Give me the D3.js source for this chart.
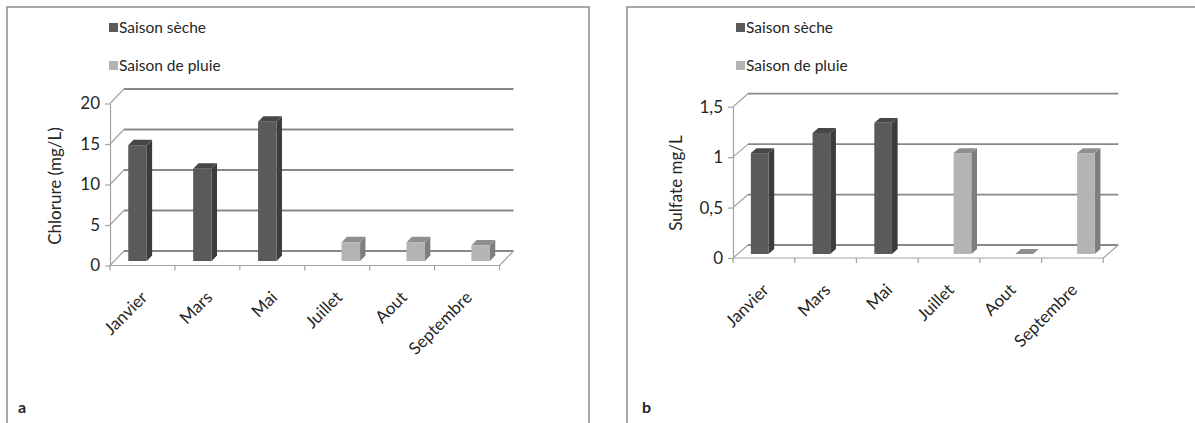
<!DOCTYPE html>
<html>
<head>
<meta charset="utf-8">
<script src="https://cdn.jsdelivr.net/npm/d3@7"></script>
<style>
  html, body { margin: 0; padding: 0; background: #fff; }
  svg { display: block; }
  text { font-family: Lato, "Liberation Sans", sans-serif; fill: #262626; }
</style>
</head>
<body>
<svg id="fig" width="1195" height="423"></svg>
<script>
// Monthly chloride and sulfate concentrations, dry season vs rainy season
const months = ["Janvier", "Mars", "Mai", "Juillet", "Aout", "Septembre"];
const seriesNames = ["Saison sèche", "Saison de pluie"];

const chlorureSeche = [14.3, 11.4, 17.2, null, null, null];
const chlorurePluie = [null, null, null, 2.3, 2.3, 1.9];
const chlorureTicks = [0, 5, 10, 15, 20];

const sulfateSeche = [1.0, 1.2, 1.3, null, null, null];
const sulfatePluie = [null, null, null, 1.0, 0, 1.0];
const sulfateTicks = [0, 0.5, 1, 1.5];

const faceColors = {
  "Saison sèche":    { front: "#5a5a5a", side: "#3c3c3c", top: "#474747" },
  "Saison de pluie": { front: "#b4b4b4", side: "#7e7e7e", top: "#8f8f8f" }
};

const frLocale = d3.formatLocale({ decimal: ",", thousands: " ", grouping: [3], currency: ["", ""] });
const tickFmt = frLocale.format("~g");

const svg = d3.select("#fig");
svg.append("rect").attr("width", 1195).attr("height", 423).attr("fill", "#fff");

// Panel frames
[[7, 582], [627, 600]].forEach(([px, pw]) => {
  svg.append("rect")
    .attr("x", px).attr("y", 7).attr("width", pw).attr("height", 440)
    .attr("fill", "none").attr("stroke", "#8c8c8c").attr("stroke-width", 1.5);
});

function drawPanel(cfg) {
  const g = svg.append("g");
  const { dx, dy } = cfg;
  const f0 = 0.31, f1 = 0.69;            // bar front/back depth fractions
  const bdx = (f1 - f0) * dx, bdy = (f1 - f0) * dy;

  const x = d3.scaleBand().domain(months).range([cfg.left, cfg.right]);
  const xs = d3.scaleBand().domain(seriesNames).range([0, x.bandwidth()]).paddingOuter(0.75);
  const y = d3.scaleLinear().domain([0, cfg.max]).range([cfg.bottom, cfg.top]);

  const thin = "#a3a3a3", grid = "#888888";

  // Back wall gridlines
  g.selectAll("line.grid").data(cfg.ticks).join("line")
    .attr("x1", cfg.left + dx).attr("x2", cfg.right + dx)
    .attr("y1", d => y(d) + dy).attr("y2", d => y(d) + dy)
    .attr("stroke", grid).attr("stroke-width", 1.8);

  // Side wall diagonals
  g.selectAll("line.diag").data(cfg.ticks).join("line")
    .attr("x1", cfg.left).attr("x2", cfg.left + dx)
    .attr("y1", d => y(d)).attr("y2", d => y(d) + dy)
    .attr("stroke", thin).attr("stroke-width", 1.2);

  // Floor front and right edges
  g.append("line")
    .attr("x1", cfg.left).attr("x2", cfg.right)
    .attr("y1", y(0)).attr("y2", y(0))
    .attr("stroke", thin).attr("stroke-width", 1.2);
  g.append("line")
    .attr("x1", cfg.right).attr("x2", cfg.right + dx)
    .attr("y1", y(0)).attr("y2", y(0) + dy)
    .attr("stroke", thin).attr("stroke-width", 1.2);

  // Category boundary ticks
  const bounds = months.map(m => x(m)).concat([cfg.right]);
  g.selectAll("line.ctick").data(bounds).join("line")
    .attr("x1", d => d).attr("x2", d => d)
    .attr("y1", y(0)).attr("y2", y(0) + 5)
    .attr("stroke", thin).attr("stroke-width", 1.2);

  // Value axis on the front left edge
  const ya = g.append("g")
    .attr("transform", `translate(${cfg.left},0)`)
    .call(d3.axisLeft(y).tickValues(cfg.ticks).tickSize(5).tickSizeOuter(0).tickPadding(5).tickFormat(tickFmt));
  ya.select(".domain").attr("stroke", thin).attr("stroke-width", 1.2);
  ya.selectAll(".tick line").attr("stroke", thin).attr("stroke-width", 1.2);
  ya.selectAll(".tick text")
    .attr("font-family", "Lato, 'Liberation Sans', sans-serif")
    .attr("font-size", 17).attr("fill", "#262626");

  // Category labels
  const xa = g.append("g")
    .attr("transform", `translate(0,${y(0)})`)
    .call(d3.axisBottom(x).tickSize(0).tickSizeOuter(0));
  xa.select(".domain").remove();
  xa.selectAll(".tick text")
    .attr("x", 0).attr("y", 0).attr("dy", null)
    .attr("transform", "translate(6,33) rotate(-45)")
    .attr("text-anchor", "end")
    .attr("font-family", "Lato, 'Liberation Sans', sans-serif")
    .attr("font-size", 17).attr("fill", "#262626");

  // 3D columns
  const bars = [];
  seriesNames.forEach((s, si) => {
    cfg.values[si].forEach((v, i) => {
      if (v !== null) bars.push({ s, m: months[i], v });
    });
  });
  const bw = xs.bandwidth();
  bars.forEach(b => {
    const xl = x(b.m) + xs(b.s) + f0 * dx;
    const xr = xl + bw;
    const yb = y(0) + f0 * dy;
    const yt = y(b.v) + f0 * dy;
    const c = faceColors[b.s];
    if (b.v > 0) {
      g.append("polygon")
        .attr("points", [[xr, yt], [xr + bdx, yt + bdy], [xr + bdx, yb + bdy], [xr, yb]].join(" "))
        .attr("fill", c.side);
    }
    g.append("polygon")
      .attr("points", [[xl, yt], [xl + bdx, yt + bdy], [xr + bdx, yt + bdy], [xr, yt]].join(" "))
      .attr("fill", c.top);
    if (b.v > 0) {
      g.append("rect")
        .attr("x", xl).attr("y", yt).attr("width", bw).attr("height", yb - yt)
        .attr("fill", c.front);
    }
  });

  // Axis title
  g.append("text")
    .attr("transform", `translate(${cfg.titleX},${cfg.titleY}) rotate(-90)`)
    .attr("text-anchor", "middle")
    .attr("font-size", 17).attr("fill", "#333")
    .text(cfg.title);

  // Legend
  seriesNames.forEach((s, i) => {
    const ly = cfg.legendY + i * 38;
    g.append("rect")
      .attr("x", cfg.legendX).attr("y", ly).attr("width", 9).attr("height", 9)
      .attr("fill", faceColors[s].front);
    g.append("text")
      .attr("x", cfg.legendX + 10).attr("y", ly + 10)
      .attr("font-size", 15.5).attr("fill", "#262626")
      .text(s);
  });

  // Panel letter
  g.append("text")
    .attr("x", cfg.letterX).attr("y", 413)
    .attr("font-size", 16).attr("font-weight", "bold").attr("fill", "#111")
    .text(cfg.letter);
}

drawPanel({
  left: 110, right: 499.5, bottom: 265.5, top: 103.5, max: 20,
  dx: 14, dy: -14.5,
  ticks: chlorureTicks, values: [chlorureSeche, chlorurePluie],
  title: "Chlorure (mg/L)", titleX: 61, titleY: 186,
  legendX: 109, legendY: 23, letter: "a", letterX: 18
});

drawPanel({
  left: 733, right: 1103.3, bottom: 258, top: 106.7, max: 1.5,
  dx: 15, dy: -13,
  ticks: sulfateTicks, values: [sulfateSeche, sulfatePluie],
  title: "Sulfate mg/L", titleX: 682, titleY: 183,
  legendX: 736, legendY: 23, letter: "b", letterX: 642
});
</script>
</body>
</html>
